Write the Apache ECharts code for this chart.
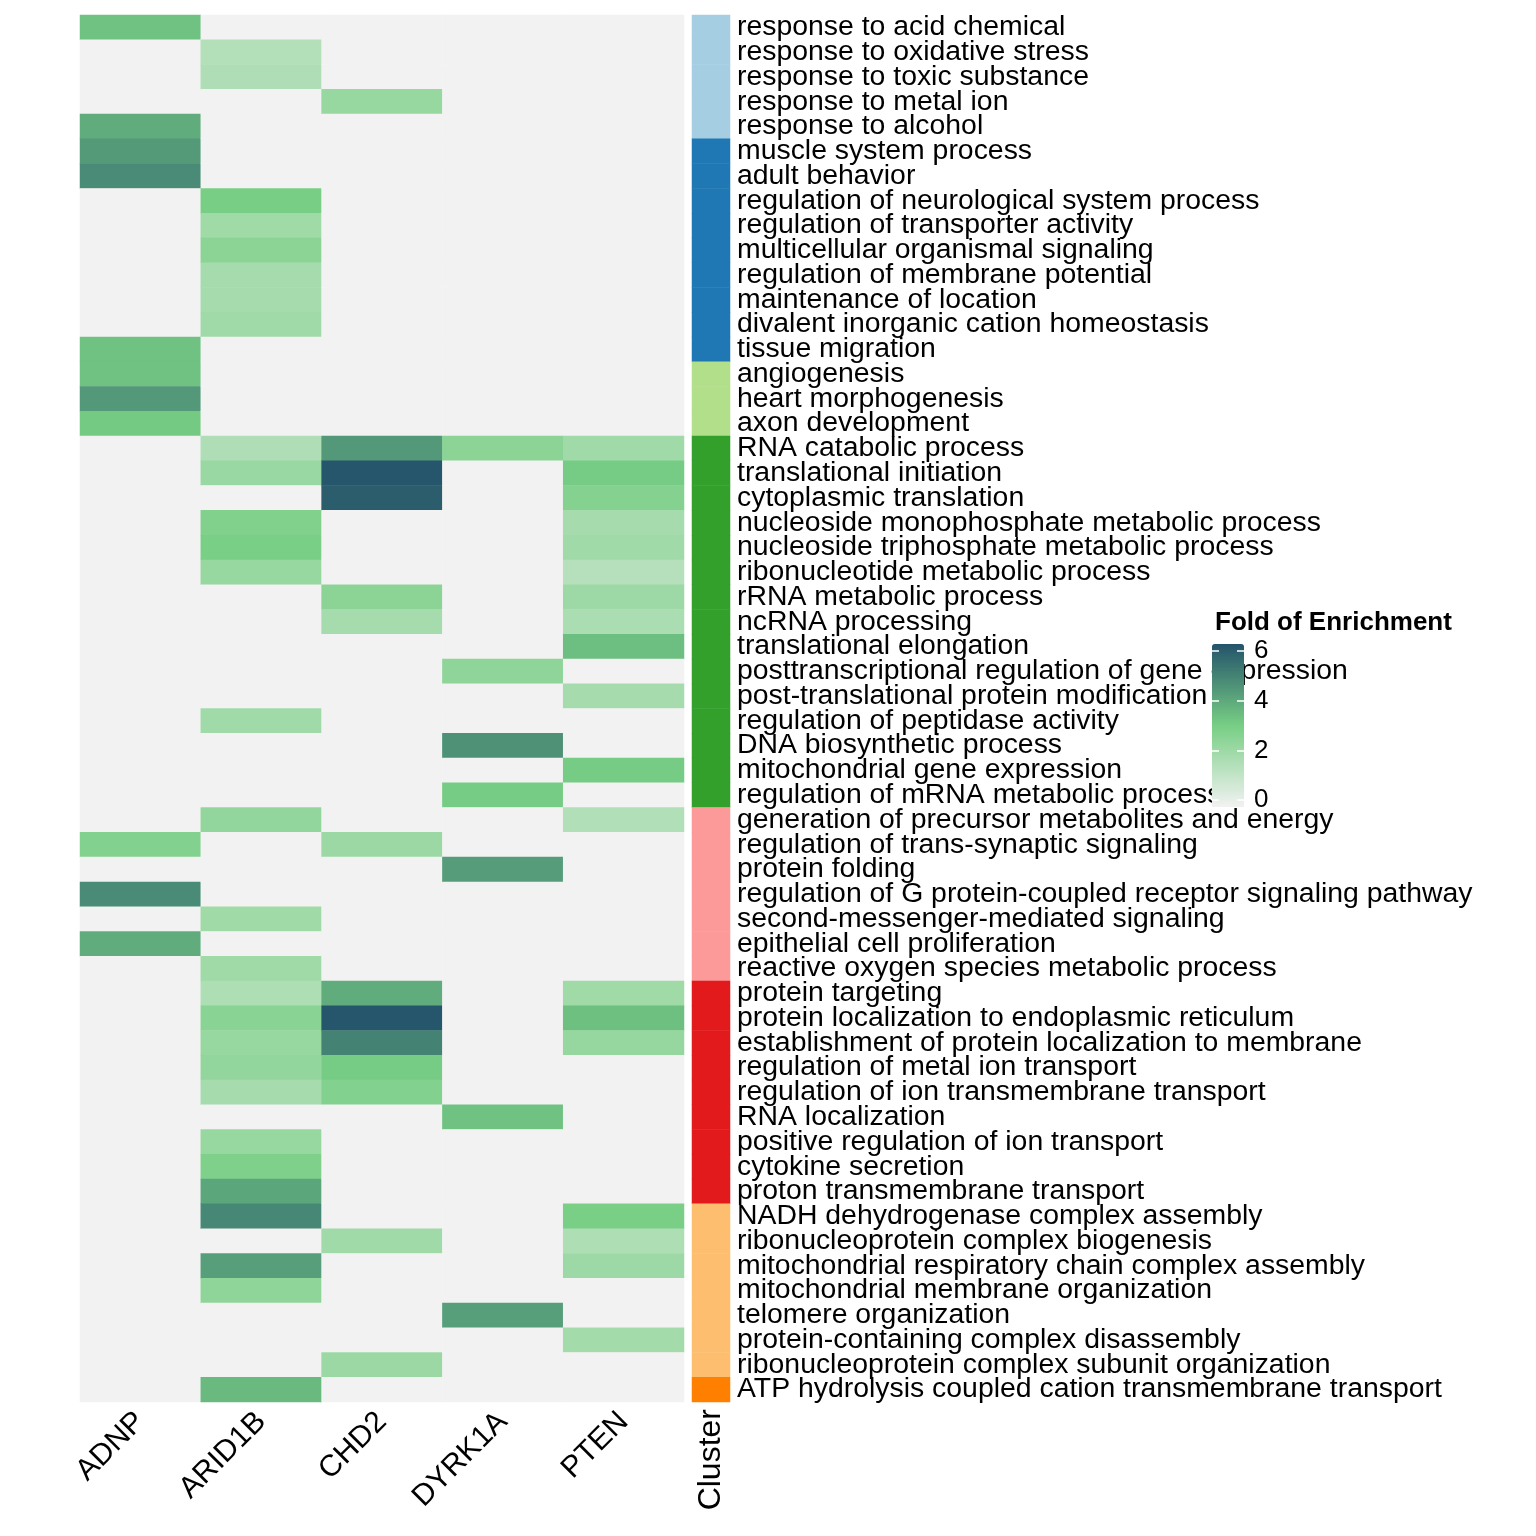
<!DOCTYPE html>
<html>
<head>
<meta charset="utf-8">
<script src="https://cdn.jsdelivr.net/npm/echarts@6/dist/echarts.min.js"></script>
<style>
html,body{margin:0;padding:0;background:#fff;}
#chart{width:1536px;height:1536px;}
</style>
</head>
<body>
<div id="chart"></div>
<script>
const genes = ['ADNP', 'ARID1B', 'CHD2', 'DYRK1A', 'PTEN'];

const terms = [
  'response to acid chemical',
  'response to oxidative stress',
  'response to toxic substance',
  'response to metal ion',
  'response to alcohol',
  'muscle system process',
  'adult behavior',
  'regulation of neurological system process',
  'regulation of transporter activity',
  'multicellular organismal signaling',
  'regulation of membrane potential',
  'maintenance of location',
  'divalent inorganic cation homeostasis',
  'tissue migration',
  'angiogenesis',
  'heart morphogenesis',
  'axon development',
  'RNA catabolic process',
  'translational initiation',
  'cytoplasmic translation',
  'nucleoside monophosphate metabolic process',
  'nucleoside triphosphate metabolic process',
  'ribonucleotide metabolic process',
  'rRNA metabolic process',
  'ncRNA processing',
  'translational elongation',
  'posttranscriptional regulation of gene expression',
  'post-translational protein modification',
  'regulation of peptidase activity',
  'DNA biosynthetic process',
  'mitochondrial gene expression',
  'regulation of mRNA metabolic process',
  'generation of precursor metabolites and energy',
  'regulation of trans-synaptic signaling',
  'protein folding',
  'regulation of G protein-coupled receptor signaling pathway',
  'second-messenger-mediated signaling',
  'epithelial cell proliferation',
  'reactive oxygen species metabolic process',
  'protein targeting',
  'protein localization to endoplasmic reticulum',
  'establishment of protein localization to membrane',
  'regulation of metal ion transport',
  'regulation of ion transmembrane transport',
  'RNA localization',
  'positive regulation of ion transport',
  'cytokine secretion',
  'proton transmembrane transport',
  'NADH dehydrogenase complex assembly',
  'ribonucleoprotein complex biogenesis',
  'mitochondrial respiratory chain complex assembly',
  'mitochondrial membrane organization',
  'telomere organization',
  'protein-containing complex disassembly',
  'ribonucleoprotein complex subunit organization',
  'ATP hydrolysis coupled cation transmembrane transport'
];

// Fold of enrichment per gene, one value per term (0 = not enriched)
const ADNP = [3.4,0,0,0,3.95,4.4,4.8,0,0,0,0,0,0,3.4,3.4,4.45,3.2,
  0,0,0,0,0,0,0,0,0,0,0,0,0,0,0,
  0,2.8,0,4.8,0,3.95,0,
  0,0,0,0,0,0,0,0,0,
  0,0,0,0,0,0,0,0];
const ARID1B = [0,1.6,1.7,0,0,0,0,3.1,2.1,2.6,1.95,1.95,2.05,0,0,0,0,
  1.7,2.25,0,2.85,3.05,2.3,0,0,0,0,0,2.05,0,0,0,
  2.4,0,0,0,2.1,0,2.1,
  1.75,2.65,2.3,2.4,1.95,0,2.3,2.9,4.1,
  4.9,0,4.3,2.5,0,0,0,3.6];
const CHD2 = [0,0,0,2.3,0,0,0,0,0,0,0,0,0,0,0,0,0,
  4.45,6.12,5.95,0,0,0,2.6,1.95,0,0,0,0,0,0,0,
  0,2.2,0,0,0,0,0,
  3.95,6.12,5.0,3.15,2.8,0,0,0,0,
  0,2.05,0,0,0,0,2.2,0];
const DYRK1A = [0,0,0,0,0,0,0,0,0,0,0,0,0,0,0,0,0,
  2.6,0,0,0,0,0,0,0,0,2.5,0,0,4.65,0,3.15,
  0,0,4.35,0,0,0,0,
  0,0,0,0,0,3.4,0,0,0,
  0,0,0,0,4.3,0,0,0];
const PTEN = [0,0,0,0,0,0,0,0,0,0,0,0,0,0,0,0,0,
  2.05,3.15,2.75,1.95,2.05,1.55,2.15,1.8,3.5,0,1.95,0,0,3.15,0,
  1.65,0,0,0,0,0,0,
  2.1,3.45,2.35,0,0,0,0,0,0,
  3.05,1.75,2.15,0,0,2.0,0,0];

// Cluster id per term
const clusterOf = [1,1,1,1,1, 2,2,2,2,2,2,2,2,2, 3,3,3,
  4,4,4,4,4,4,4,4,4,4,4,4,4,4,4,
  5,5,5,5,5,5,5, 6,6,6,6,6,6,6,6,6, 7,7,7,7,7,7,7, 8];
const clusterColors = ['#A6CEE3','#1F78B4','#B2DF8A','#33A02C','#FB9A99','#E31A1C','#FDBF6F','#FF7F00'];

const legendTicks = [0, 2, 4, 6];

const geneValues = [ADNP, ARID1B, CHD2, DYRK1A, PTEN];
const heatData = [];
geneValues.forEach((arr, gi) => {
  arr.forEach((v, ti) => heatData.push([gi, ti, v]));
});
const clusterData = clusterOf.map((c, ti) => [0, ti, c]);

const FONT = 'Liberation Sans, Arial, Helvetica, sans-serif';
const chart = echarts.init(document.getElementById('chart'), null, {renderer: 'canvas'});

chart.setOption({
  backgroundColor: '#ffffff',
  animation: false,
  title: {
    text: 'Fold of Enrichment',
    left: 1215, top: 610,
    padding: 0,
    textStyle: {fontFamily: FONT, fontSize: 26, fontWeight: 'bold', color: '#000'}
  },
  grid: [
    {left: 80, top: 15, width: 604, height: 1387},
    {left: 692, top: 15, width: 38, height: 1387},
    {left: 1212, top: 651, width: 32, height: 149}
  ],
  xAxis: [
    {type: 'category', gridIndex: 0, data: genes, position: 'bottom',
     axisLine: {show: false}, axisTick: {show: false}, splitLine: {show: false},
     axisLabel: {rotate: 45, fontFamily: FONT, fontSize: 30, color: '#000', margin: 15,
       interval: 0}},
    {type: 'category', gridIndex: 1, data: ['Cluster'], position: 'bottom',
     axisLine: {show: false}, axisTick: {show: false},
     axisLabel: {rotate: 90, fontFamily: FONT, fontSize: 32, color: '#000', margin: 7}},
    {type: 'value', gridIndex: 2, show: false, min: 0, max: 1}
  ],
  yAxis: [
    {type: 'category', gridIndex: 0, data: terms, inverse: true, show: false},
    {type: 'category', gridIndex: 1, data: terms, inverse: true, position: 'right',
     axisLine: {show: false}, axisTick: {show: false},
     axisLabel: {fontFamily: FONT, fontSize: 28.4, color: '#000', margin: 7, interval: 0,
       padding: [5, 0, 0, 0]}},
    {type: 'value', gridIndex: 2, min: 0, max: 6, interval: 2, position: 'left', z: 10,
     axisLine: {show: false}, splitLine: {show: false},
     axisTick: {show: true, inside: true, length: 7, lineStyle: {color: '#fff', width: 1.5}},
     axisLabel: {show: false}},
    {type: 'value', gridIndex: 2, min: 0, max: 6, interval: 2, position: 'right', z: 10,
     axisLine: {show: false}, splitLine: {show: false},
     axisTick: {show: true, inside: true, length: 7, lineStyle: {color: '#fff', width: 1.5}},
     axisLabel: {show: true, fontFamily: FONT, fontSize: 26, color: '#000', margin: 10,
       customValues: legendTicks}}
  ],
  visualMap: [
    {type: 'continuous', seriesIndex: 0, min: 0, max: 6.2, calculable: false,
     orient: 'vertical', left: 1212, top: 644, itemWidth: 32, itemHeight: 163,
     padding: 0, text: null, showLabel: false,
     inRange: {color: ['#F2F2F2', '#77CE84', '#24536A']}},
    {type: 'piecewise', seriesIndex: 1, show: false, dimension: 2,
     pieces: clusterColors.map((c, i) => ({value: i + 1, color: c}))}
  ],
  series: [
    {type: 'heatmap', xAxisIndex: 0, yAxisIndex: 0, data: heatData,
     itemStyle: {borderWidth: 0}, emphasis: {disabled: true}},
    {type: 'heatmap', xAxisIndex: 1, yAxisIndex: 1, data: clusterData,
     itemStyle: {borderWidth: 0}, emphasis: {disabled: true}},
    {type: 'scatter', xAxisIndex: 2, yAxisIndex: 2, data: []},
    {type: 'scatter', xAxisIndex: 2, yAxisIndex: 3, data: []}
  ]
});
</script>
</body>
</html>
